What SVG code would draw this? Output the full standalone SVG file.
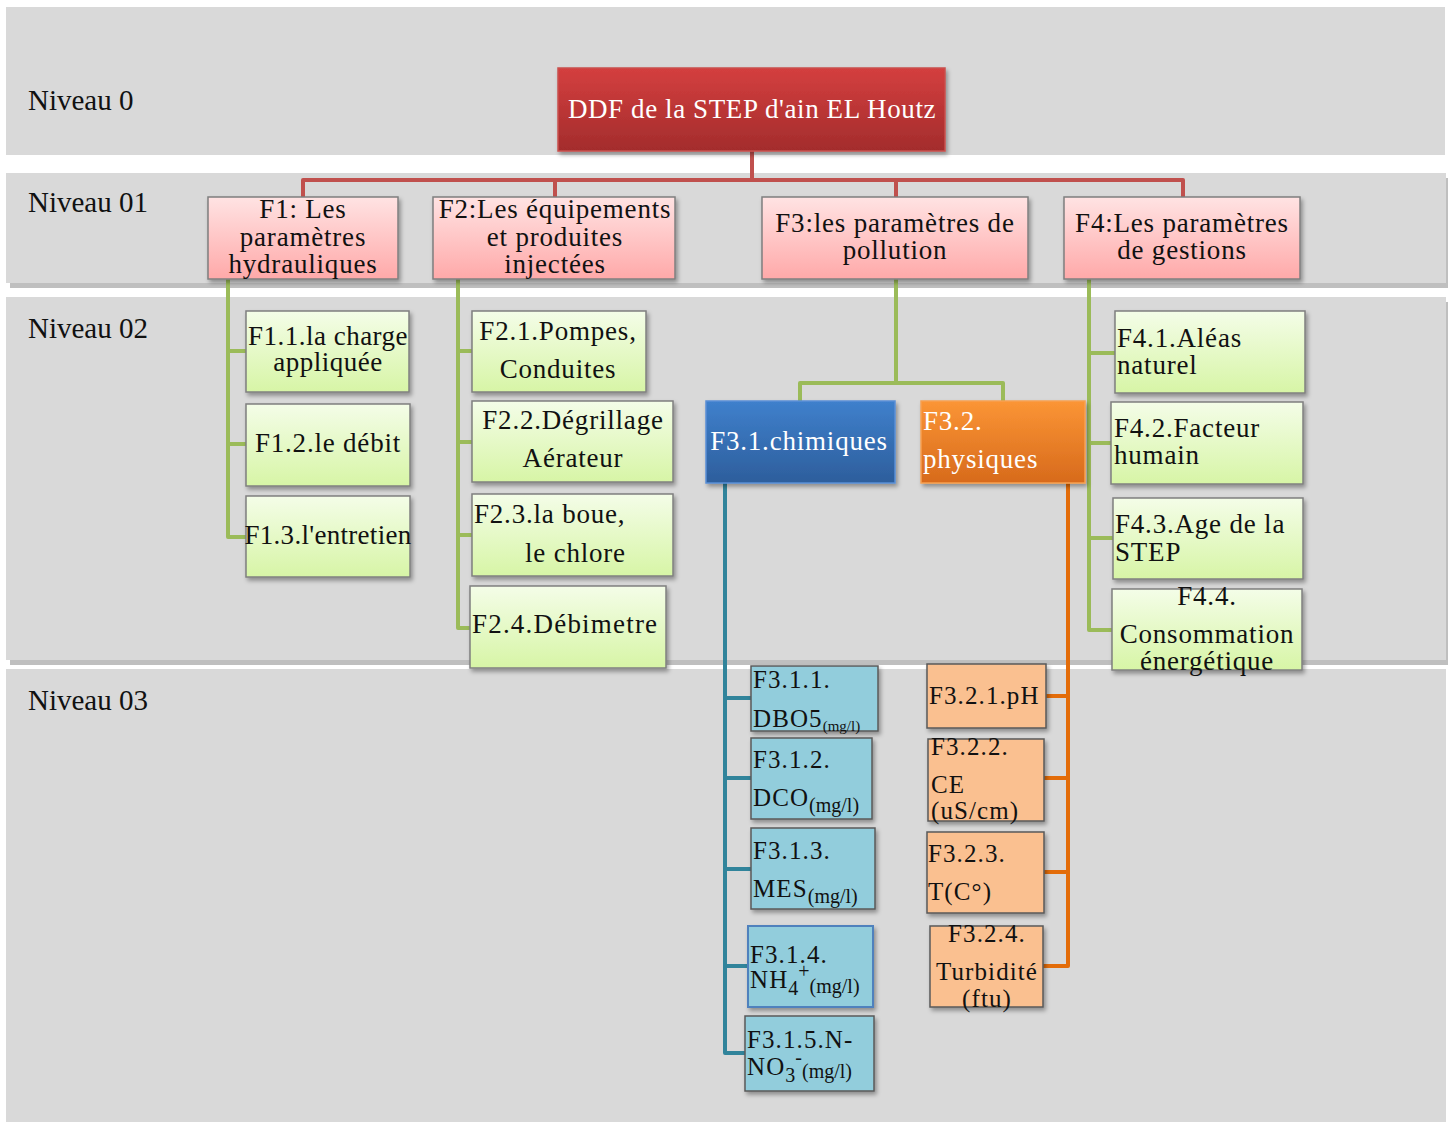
<svg xmlns="http://www.w3.org/2000/svg" width="1448" height="1124" viewBox="0 0 1448 1124">
  <style>
    .band { fill: #d9d9d9; }
    .bandsh { fill: #bfbfbf; }
    .lvl { font-family: "Liberation Serif", serif; font-size: 29px; fill: #111; }
    .tx { font-family: "Liberation Serif", serif; fill: #111; letter-spacing: 0.8px; }
    .t0 { font-size: 27px; fill: #fff; letter-spacing: 0.6px; }
    .t1 { font-size: 27px; }
    .t2 { font-size: 27px; }
    .t3 { font-size: 25px; letter-spacing: 1.1px; }
    .w { fill: #fff; }
    .mid { text-anchor: middle; }
    .sub { font-size: 20px; letter-spacing: 0; }
    .sub2 { font-size: 15px; letter-spacing: 0; }
    .conn path { fill: none; stroke-width: 4; stroke-linejoin: round; }
    .red { stroke: #c0504d; }
    .grn { stroke: #9bbb59; }
    .blu { stroke: #31849b; }
    .org { stroke: #e36c09; }
    .node rect { filter: url(#sh); }
    .b1 { fill: url(#gPink); stroke: #7f7f7f; stroke-width: 1.5; }
    .b2 { fill: url(#gGreen); stroke: #7f7f7f; stroke-width: 1.5; }
    .b3a { fill: #92cddc; stroke: #595959; stroke-width: 1.5; }
    .b3b { fill: #fac090; stroke: #595959; stroke-width: 1.5; }
  </style>
  <defs>
    <filter id="sh" x="-10%" y="-10%" width="125%" height="130%">
      <feDropShadow dx="2" dy="3" stdDeviation="2" flood-color="#000" flood-opacity="0.35"/>
    </filter>
    <linearGradient id="gRed" x1="0" y1="0" x2="0" y2="1">
      <stop offset="0" stop-color="#d43f3f"/>
      <stop offset="1" stop-color="#a32c2c"/>
    </linearGradient>
    <linearGradient id="gPink" x1="0" y1="0" x2="0" y2="1">
      <stop offset="0" stop-color="#ffe3e3"/>
      <stop offset="1" stop-color="#ffa9a9"/>
    </linearGradient>
    <linearGradient id="gGreen" x1="0" y1="0" x2="0" y2="1">
      <stop offset="0" stop-color="#f4fde8"/>
      <stop offset="1" stop-color="#d7f5a6"/>
    </linearGradient>
    <linearGradient id="gBlue" x1="0" y1="0" x2="0" y2="1">
      <stop offset="0" stop-color="#3f80cc"/>
      <stop offset="1" stop-color="#2d5e9c"/>
    </linearGradient>
    <linearGradient id="gOrange" x1="0" y1="0" x2="0" y2="1">
      <stop offset="0" stop-color="#fb9535"/>
      <stop offset="1" stop-color="#d76a1c"/>
    </linearGradient>
  </defs>

  <!-- level bands -->
  <g id="bands">
    <rect class="band" x="6" y="7" width="1439" height="148"/>
    <rect class="bandsh" x="10" y="178" width="1438" height="110"/>
    <rect class="band" x="6" y="173" width="1440" height="110"/>
    <rect class="bandsh" x="10" y="302" width="1438" height="363"/>
    <rect class="band" x="6" y="297" width="1440" height="363"/>
    <rect class="band" x="6" y="669" width="1440" height="453"/>
    <text class="lvl" x="28" y="110">Niveau 0</text>
    <text class="lvl" x="28" y="212">Niveau 01</text>
    <text class="lvl" x="28" y="338">Niveau 02</text>
    <text class="lvl" x="28" y="710">Niveau 03</text>
  </g>

  <!-- connectors -->
  <g id="connectors" class="conn">
    <path class="red" d="M752,151 V180 M303,197 V180 H1183 V197 M555,180 V197 M896,180 V197"/>
    <path class="grn" d="M228,279 V537 H246 M228,351 H246 M228,444 H246"/>
    <path class="grn" d="M458,279 V628 H470 M458,351 H472 M458,442 H472 M458,535 H472"/>
    <path class="grn" d="M896,279 V383 M800,401 V383 H1003 V401"/>
    <path class="grn" d="M1089,279 V630 H1112 M1089,353 H1115 M1089,443 H1111 M1089,538 H1113"/>
    <path class="blu" d="M725,483 V1053 H745 M725,698 H751 M725,778 H751 M725,869 H751 M725,966 H748"/>
    <path class="org" d="M1068,483 V966 H1043 M1068,696 H1046 M1068,778 H1044 M1068,872 H1044"/>
  </g>

  <!-- level 0 -->
  <g id="root" class="node">
    <rect x="558" y="68" width="387" height="83" fill="url(#gRed)" stroke="#c9504c" stroke-width="1.5"/>
    <text class="tx t0 mid" x="752" y="118">DDF de la STEP d'ain EL Houtz</text>
  </g>

  <!-- level 01 -->
  <g id="F1" class="node">
    <rect class="b1" x="208" y="197" width="190" height="82"/>
    <text class="tx t1 mid" x="303"><tspan x="303" y="218">F1: Les</tspan><tspan x="303" y="246">paramètres</tspan><tspan x="303" y="273">hydrauliques</tspan></text>
  </g>
  <g id="F2" class="node">
    <rect class="b1" x="433" y="197" width="242" height="82"/>
    <text class="tx t1 mid" x="555"><tspan x="555" y="218">F2:Les équipements</tspan><tspan x="555" y="246">et produites</tspan><tspan x="555" y="273">injectées</tspan></text>
  </g>
  <g id="F3" class="node">
    <rect class="b1" x="762" y="197" width="266" height="82"/>
    <text class="tx t1 mid" x="895"><tspan x="895" y="232">F3:les paramètres de</tspan><tspan x="895" y="259">pollution</tspan></text>
  </g>
  <g id="F4" class="node">
    <rect class="b1" x="1064" y="197" width="236" height="82"/>
    <text class="tx t1 mid" x="1182"><tspan x="1182" y="232">F4:Les paramètres</tspan><tspan x="1182" y="259">de gestions</tspan></text>
  </g>

  <!-- level 02 -->
  <g id="F1.1" class="node">
    <rect class="b2" x="246" y="311" width="163" height="81"/>
    <text class="tx t2 mid" style="letter-spacing:0.5px"><tspan x="328" y="345">F1.1.la charge</tspan><tspan x="328" y="371">appliquée</tspan></text>
  </g>
  <g id="F1.2" class="node">
    <rect class="b2" x="246" y="404" width="164" height="82"/>
    <text class="tx t2 mid" x="328" y="452">F1.2.le débit</text>
  </g>
  <g id="F1.3" class="node">
    <rect class="b2" x="246" y="496" width="164" height="81"/>
    <text class="tx t2 mid" x="328" y="544" style="letter-spacing:0.3px">F1.3.l'entretien</text>
  </g>
  <g id="F2.1" class="node">
    <rect class="b2" x="472" y="311" width="174" height="81"/>
    <text class="tx t2 mid"><tspan x="558" y="340">F2.1.Pompes,</tspan><tspan x="558" y="378">Conduites</tspan></text>
  </g>
  <g id="F2.2" class="node">
    <rect class="b2" x="472" y="401" width="201" height="81"/>
    <text class="tx t2 mid"><tspan x="573" y="429">F2.2.Dégrillage</tspan><tspan x="573" y="467">Aérateur</tspan></text>
  </g>
  <g id="F2.3" class="node">
    <rect class="b2" x="472" y="494" width="201" height="82"/>
    <text class="tx t2"><tspan x="474" y="523">F2.3.la boue,</tspan><tspan x="525" y="562">le chlore</tspan></text>
  </g>
  <g id="F2.4" class="node">
    <rect class="b2" x="470" y="586" width="196" height="82"/>
    <text class="tx t2" x="472" y="633" style="letter-spacing:1.2px">F2.4.Débimetre</text>
  </g>
  <g id="F3.1" class="node">
    <rect x="706" y="401" width="189" height="82" fill="url(#gBlue)" stroke="#5a8fd6" stroke-width="1.5"/>
    <text class="tx t2 w mid" x="799" y="450">F3.1.chimiques</text>
  </g>
  <g id="F3.2" class="node">
    <rect x="921" y="401" width="164" height="82" fill="url(#gOrange)" stroke="#f7a050" stroke-width="1.5"/>
    <text class="tx t2 w"><tspan x="923" y="430">F3.2.</tspan><tspan x="923" y="468">physiques</tspan></text>
  </g>
  <g id="F4.1" class="node">
    <rect class="b2" x="1115" y="311" width="190" height="82"/>
    <text class="tx t2"><tspan x="1117" y="347">F4.1.Aléas</tspan><tspan x="1117" y="374">naturel</tspan></text>
  </g>
  <g id="F4.2" class="node">
    <rect class="b2" x="1111" y="402" width="192" height="82"/>
    <text class="tx t2"><tspan x="1114" y="437">F4.2.Facteur</tspan><tspan x="1114" y="464">humain</tspan></text>
  </g>
  <g id="F4.3" class="node">
    <rect class="b2" x="1113" y="498" width="190" height="81"/>
    <text class="tx t2"><tspan x="1115" y="533">F4.3.Age de la</tspan><tspan x="1115" y="561">STEP</tspan></text>
  </g>
  <g id="F4.4" class="node">
    <rect class="b2" x="1112" y="589" width="190" height="81"/>
    <text class="tx t2 mid"><tspan x="1207" y="605">F4.4.</tspan><tspan x="1207" y="643">Consommation</tspan><tspan x="1207" y="670">énergétique</tspan></text>
  </g>

  <!-- level 03 : chemical parameters -->
  <g id="F3.1.1" class="node">
    <rect class="b3a" x="751" y="666" width="127" height="65"/>
    <text class="tx t3"><tspan x="753" y="688">F3.1.1.</tspan><tspan x="753" y="727">DBO5</tspan><tspan class="sub2" dy="4">(mg/l)</tspan></text>
  </g>
  <g id="F3.1.2" class="node">
    <rect class="b3a" x="751" y="738" width="121" height="81"/>
    <text class="tx t3"><tspan x="753" y="768">F3.1.2.</tspan><tspan x="753" y="806">DCO</tspan><tspan class="sub" dy="6">(mg/l)</tspan></text>
  </g>
  <g id="F3.1.3" class="node">
    <rect class="b3a" x="751" y="828" width="124" height="81"/>
    <text class="tx t3"><tspan x="753" y="859">F3.1.3.</tspan><tspan x="753" y="897">MES</tspan><tspan class="sub" dy="6">(mg/l)</tspan></text>
  </g>
  <g id="F3.1.4" class="node">
    <rect x="748" y="926" width="125" height="81" fill="#92cddc" stroke="#4f81bd" stroke-width="2" style="filter:url(#sh)"/>
    <text class="tx t3"><tspan x="750" y="963">F3.1.4.</tspan><tspan x="750" y="988">NH</tspan><tspan class="sub" dy="7">4</tspan><tspan class="sub" dy="-17">+</tspan><tspan class="sub" dy="15">(mg/l)</tspan></text>
  </g>
  <g id="F3.1.5" class="node">
    <rect class="b3a" x="745" y="1016" width="129" height="75"/>
    <text class="tx t3"><tspan x="747" y="1048">F3.1.5.N-</tspan><tspan x="747" y="1075">NO</tspan><tspan class="sub" dy="7">3</tspan><tspan class="sub" dy="-18">-</tspan><tspan class="sub" dy="14">(mg/l)</tspan></text>
  </g>

  <!-- level 03 : physical parameters -->
  <g id="F3.2.1" class="node">
    <rect class="b3b" x="927" y="664" width="119" height="64"/>
    <text class="tx t3" x="929" y="704">F3.2.1.pH</text>
  </g>
  <g id="F3.2.2" class="node">
    <rect class="b3b" x="928" y="739" width="116" height="82"/>
    <text class="tx t3"><tspan x="931" y="755">F3.2.2.</tspan><tspan x="931" y="793">CE</tspan><tspan x="931" y="819">(uS/cm)</tspan></text>
  </g>
  <g id="F3.2.3" class="node">
    <rect class="b3b" x="927" y="832" width="117" height="81"/>
    <text class="tx t3"><tspan x="928" y="862">F3.2.3.</tspan><tspan x="928" y="900">T(C°)</tspan></text>
  </g>
  <g id="F3.2.4" class="node">
    <rect class="b3b" x="930" y="926" width="113" height="81"/>
    <text class="tx t3 mid"><tspan x="987" y="942">F3.2.4.</tspan><tspan x="987" y="980">Turbidité</tspan><tspan x="987" y="1007">(ftu)</tspan></text>
  </g>
</svg>
